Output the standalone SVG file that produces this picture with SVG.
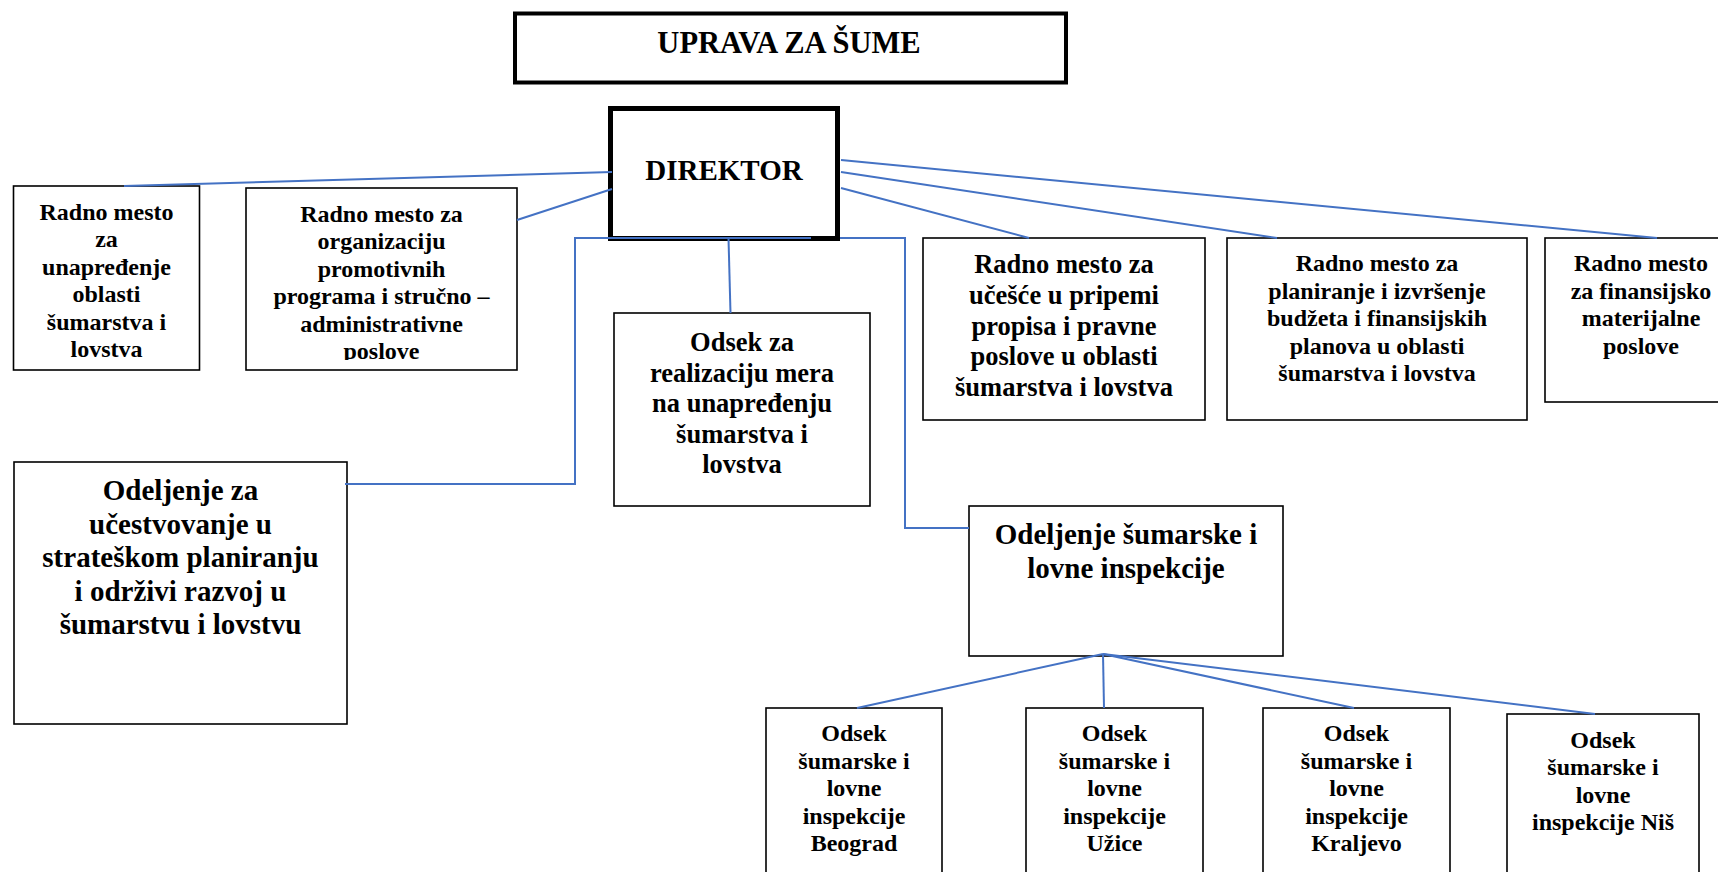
<svg xmlns="http://www.w3.org/2000/svg" width="1718" height="872" viewBox="0 0 1718 872">
<style>
.box{fill:#fff;stroke:#000;stroke-width:1.6}
.t{font-family:"Liberation Serif","Times New Roman",serif;font-weight:bold;fill:#000;text-anchor:middle}
.s24{font-size:24px}
.s26{font-size:26.5px}
.s29{font-size:29px}
.c{fill:none;stroke:#4472C4;stroke-width:2}
</style>
<defs>
<clipPath id="clipTop"><rect x="0" y="0" width="1718" height="360"/></clipPath>
</defs>
<rect width="1718" height="872" fill="#fff"/>

<g id="uprava">
<rect x="515" y="13.5" width="551" height="69" fill="#fff" stroke="#000" stroke-width="4"/>
<text class="t" font-size="30.5" x="789" y="53">UPRAVA ZA ŠUME</text>
</g>

<g id="direktor">
<rect x="610.5" y="108.5" width="227" height="130" fill="#fff" stroke="#000" stroke-width="5"/>
<text class="t s29" x="724" y="180">DIREKTOR</text>
</g>

<g id="rm-unapredjenje">
<rect class="box" x="13.5" y="186" width="186" height="184"/>
<text class="t s24" clip-path="url(#clipTop)"><tspan x="106.5" y="219.5">Radno mesto</tspan><tspan x="106.5" y="247">za</tspan><tspan x="106.5" y="274.5">unapređenje</tspan><tspan x="106.5" y="302">oblasti</tspan><tspan x="106.5" y="329.5">šumarstva i</tspan><tspan x="106.5" y="357">lovstva</tspan></text>
</g>

<g id="rm-promotivni">
<rect class="box" x="246" y="188" width="271" height="182"/>
<text class="t s24" clip-path="url(#clipTop)"><tspan x="381.5" y="221.5">Radno mesto za</tspan><tspan x="381.5" y="249">organizaciju</tspan><tspan x="381.5" y="276.5">promotivnih</tspan><tspan x="381.5" y="304">programa i stručno –</tspan><tspan x="381.5" y="331.5">administrativne</tspan><tspan x="381.5" y="359">poslove</tspan></text>
</g>

<g id="odsek-realizacija">
<rect class="box" x="614" y="313" width="256" height="193"/>
<text class="t s26"><tspan x="742" y="351">Odsek za</tspan><tspan x="742" y="381.6">realizaciju mera</tspan><tspan x="742" y="412.2">na unapređenju</tspan><tspan x="742" y="442.8">šumarstva i</tspan><tspan x="742" y="473.4">lovstva</tspan></text>
</g>

<g id="odeljenje-strateski">
<rect class="box" x="14" y="462" width="333" height="262"/>
<text class="t s29"><tspan x="180.5" y="500">Odeljenje za</tspan><tspan x="180.5" y="533.6">učestvovanje u</tspan><tspan x="180.5" y="567.2">strateškom planiranju</tspan><tspan x="180.5" y="600.8">i održivi razvoj u</tspan><tspan x="180.5" y="634.4">šumarstvu i lovstvu</tspan></text>
</g>

<g id="rm-propisi">
<rect class="box" x="923" y="238" width="282" height="182"/>
<text class="t s26"><tspan x="1064" y="273">Radno mesto za</tspan><tspan x="1064" y="303.8">učešće u pripemi</tspan><tspan x="1064" y="334.6">propisa i pravne</tspan><tspan x="1064" y="365.4">poslove u oblasti</tspan><tspan x="1064" y="396.2">šumarstva i lovstva</tspan></text>
</g>

<g id="rm-budzet">
<rect class="box" x="1227" y="238" width="300" height="182"/>
<text class="t s24"><tspan x="1377" y="271">Radno mesto za</tspan><tspan x="1377" y="298.6">planiranje i izvršenje</tspan><tspan x="1377" y="326.2">budžeta i finansijskih</tspan><tspan x="1377" y="353.8">planova u oblasti</tspan><tspan x="1377" y="381.4">šumarstva i lovstva</tspan></text>
</g>

<g id="rm-finansijsko">
<rect class="box" x="1545" y="238" width="190" height="164"/>
<text class="t s24"><tspan x="1641" y="271">Radno mesto</tspan><tspan x="1641" y="298.6">za finansijsko</tspan><tspan x="1641" y="326.2">materijalne</tspan><tspan x="1641" y="353.8">poslove</tspan></text>
</g>

<g id="odeljenje-inspekcija">
<rect class="box" x="969" y="506" width="314" height="150"/>
<text class="t s29"><tspan x="1126" y="544">Odeljenje šumarske i</tspan><tspan x="1126" y="577.5">lovne inspekcije</tspan></text>
</g>

<g id="odsek-beograd">
<rect class="box" x="766" y="708" width="176" height="180"/>
<text class="t s24"><tspan x="854" y="741">Odsek</tspan><tspan x="854" y="768.6">šumarske i</tspan><tspan x="854" y="796.2">lovne</tspan><tspan x="854" y="823.8">inspekcije</tspan><tspan x="854" y="851.4">Beograd</tspan></text>
</g>

<g id="odsek-uzice">
<rect class="box" x="1026" y="708" width="177" height="180"/>
<text class="t s24"><tspan x="1114.5" y="741">Odsek</tspan><tspan x="1114.5" y="768.6">šumarske i</tspan><tspan x="1114.5" y="796.2">lovne</tspan><tspan x="1114.5" y="823.8">inspekcije</tspan><tspan x="1114.5" y="851.4">Užice</tspan></text>
</g>

<g id="odsek-kraljevo">
<rect class="box" x="1263" y="708" width="187" height="180"/>
<text class="t s24"><tspan x="1356.5" y="741">Odsek</tspan><tspan x="1356.5" y="768.6">šumarske i</tspan><tspan x="1356.5" y="796.2">lovne</tspan><tspan x="1356.5" y="823.8">inspekcije</tspan><tspan x="1356.5" y="851.4">Kraljevo</tspan></text>
</g>

<g id="odsek-nis">
<rect class="box" x="1507" y="714" width="192" height="180"/>
<text class="t s24"><tspan x="1603" y="747.6">Odsek</tspan><tspan x="1603" y="775.2">šumarske i</tspan><tspan x="1603" y="802.8">lovne</tspan><tspan x="1603" y="830.4">inspekcije Niš</tspan></text>
</g>

<g id="connectors">
<line class="c" x1="612" y1="172" x2="124" y2="186"/>
<line class="c" x1="612" y1="189" x2="517" y2="220"/>
<polyline class="c" points="345,484 575,484 575,238 811,238"/>
<line class="c" x1="728.5" y1="238" x2="730.5" y2="313"/>
<polyline class="c" points="840,238 905,238 905,528 969,528"/>
<line class="c" x1="841" y1="188" x2="1029" y2="238"/>
<line class="c" x1="841" y1="172" x2="1277" y2="238"/>
<line class="c" x1="841" y1="160" x2="1657" y2="238"/>
<line class="c" x1="1103" y1="654" x2="857" y2="708"/>
<line class="c" x1="1103" y1="654" x2="1104" y2="708"/>
<line class="c" x1="1103" y1="654" x2="1354" y2="708"/>
<line class="c" x1="1103" y1="654" x2="1595" y2="714"/>
</g>
</svg>
